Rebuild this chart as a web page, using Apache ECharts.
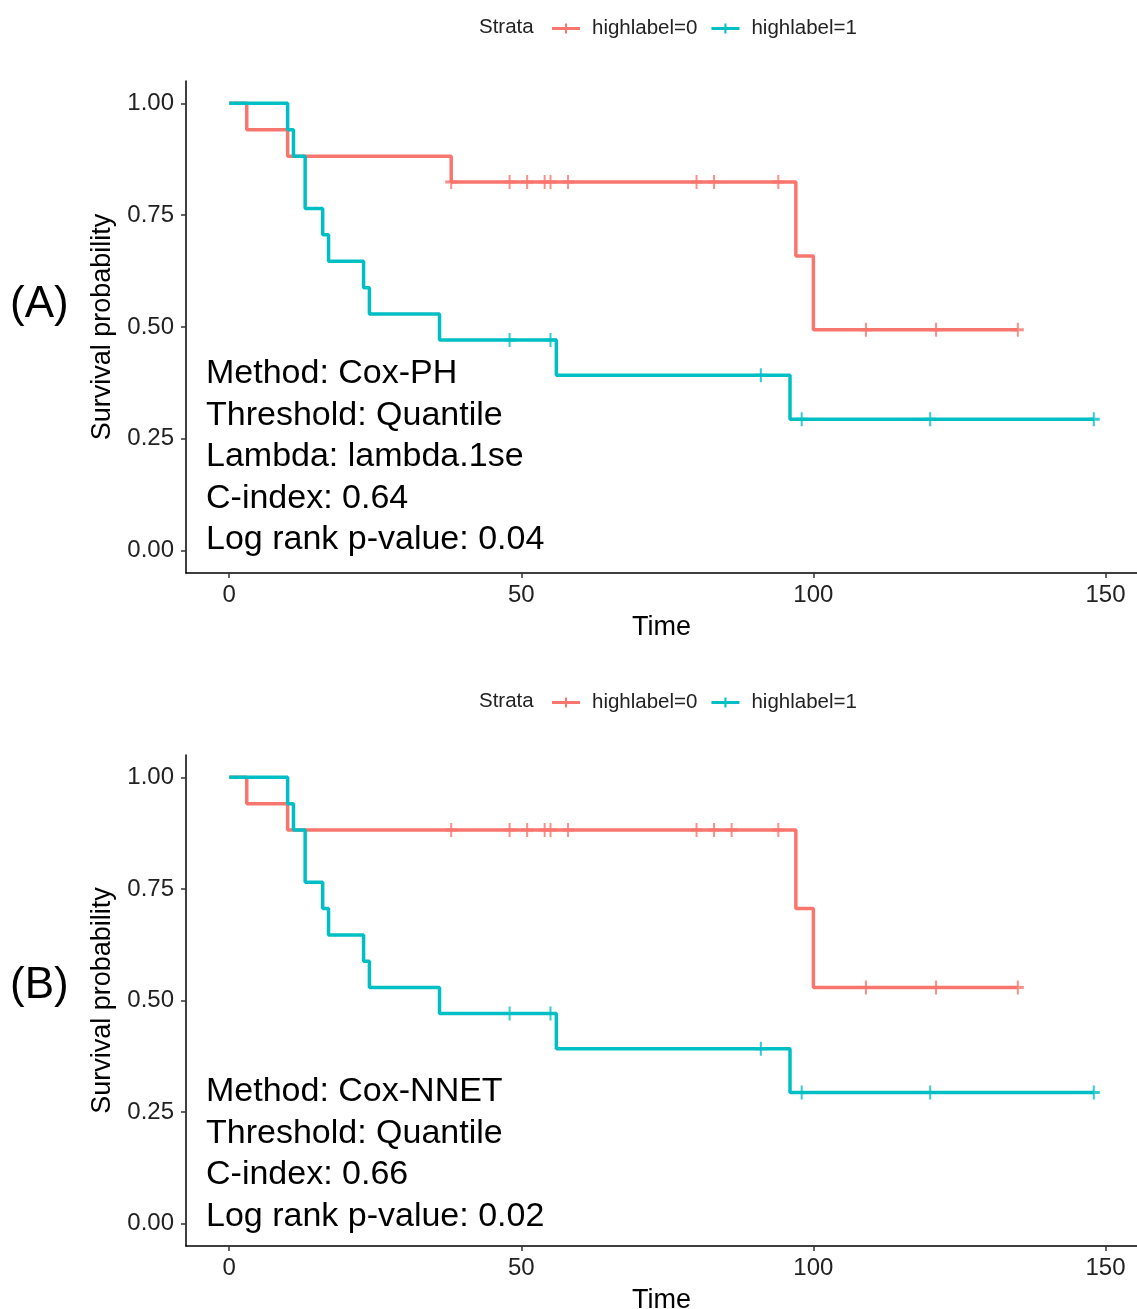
<!DOCTYPE html>
<html>
<head>
<meta charset="utf-8">
<title>Survival curves</title>
<script src="https://cdn.jsdelivr.net/npm/echarts@6/dist/echarts.min.js"></script>
<style>
  html, body { margin: 0; padding: 0; background: #fff; }
  #chart { width: 1137px; height: 1309px; }
</style>
</head>
<body>
<div id="chart"></div>
<script>
// panel A (Cox-PH) and panel B (Cox-NNET), step points
const timeRedA = [0, 3, 10, 38, 97, 100, 135]
const survRedA = [1.0, 0.941, 0.882, 0.824, 0.659, 0.494, 0.494]
const censorRedA = [38, 48, 51, 54, 55, 58, 80, 83, 94, 109, 121, 135]

const timeTealA = [0, 10, 11, 13, 16, 17, 23, 24, 36, 56, 96, 148]
const survTealA = [1.0, 0.941, 0.882, 0.765, 0.706, 0.647, 0.588, 0.529, 0.471, 0.392, 0.294, 0.294]
const censorTealA = [48, 55, 91, 98, 120, 148]

const timeRedB = [0, 3, 10, 97, 100, 135]
const survRedB = [1.0, 0.941, 0.882, 0.706, 0.529, 0.529]
const censorRedB = [38, 48, 51, 54, 55, 58, 80, 83, 86, 94, 109, 121, 135]

const timeTealB = [0, 10, 11, 13, 16, 17, 23, 24, 36, 56, 96, 148]
const survTealB = [1.0, 0.941, 0.882, 0.765, 0.706, 0.647, 0.588, 0.529, 0.471, 0.392, 0.294, 0.294]
const censorTealB = [48, 55, 91, 98, 120, 148]

const xTicks = [0, 50, 100, 150]
const yTicks = [0, 0.25, 0.5, 0.75, 1]
const strata = ['highlabel=0', 'highlabel=1']

const notesA = ['Method: Cox-PH', 'Threshold: Quantile', 'Lambda: lambda.1se', 'C-index: 0.64', 'Log rank p-value: 0.04']
const notesB = ['Method: Cox-NNET', 'Threshold: Quantile', 'C-index: 0.66', 'Log rank p-value: 0.02']

const RED = '#F8766D'
const TEAL = '#00BFC4'
const FONT = '"Liberation Sans", Arial, Helvetica, sans-serif'
const CROSS = 'path://M5,0 L7,0 L7,14 L5,14 Z M0,5.5 L12,5.5 L12,8.5 L0,8.5 Z'
const LEGEND_ICON = 'path://M0,3.5 L28,3.5 L28,6.5 L0,6.5 Z M13,0 L15,0 L15,10 L13,10 Z'

// survival value at time t
function stepAt(times, surv, t) {
  let v = surv[0]
  for (let i = 0; i < times.length; i++) {
    if (times[i] <= t) v = surv[i]
  }
  return v
}

function pairs(times, surv) {
  return times.map((t, i) => [t, surv[i]])
}

function censorPoints(censor, times, surv) {
  return censor.map(t => [t, stepAt(times, surv, t)])
}

function axesFor(idx) {
  const x = {
    type: 'value',
    gridIndex: idx,
    min: -7.4,
    max: 155.4,
    name: 'Time',
    nameLocation: 'middle',
    nameGap: 41,
    nameTextStyle: { color: '#000', fontSize: 27, fontFamily: FONT },
    axisLine: { onZero: false, lineStyle: { color: '#000', width: 1.5 } },
    axisTick: { length: 5, lineStyle: { color: '#333', width: 1.5 }, customValues: xTicks },
    axisLabel: { color: '#222', fontSize: 24, fontFamily: FONT, margin: 10, customValues: xTicks },
    splitLine: { show: false }
  }
  const y = {
    type: 'value',
    gridIndex: idx,
    min: -0.05,
    max: 1.05,
    name: 'Survival probability',
    nameLocation: 'middle',
    nameGap: 66,
    nameTextStyle: { color: '#000', fontSize: 27, fontFamily: FONT },
    axisLine: { show: true, onZero: false, lineStyle: { color: '#000', width: 1.5 } },
    axisTick: { show: true, length: 5, lineStyle: { color: '#333', width: 1.5 }, customValues: yTicks },
    axisLabel: {
      color: '#222', fontSize: 24, fontFamily: FONT, margin: 12,
      customValues: yTicks,
      formatter: v => v.toFixed(2)
    },
    splitLine: { show: false }
  }
  return [x, y]
}

function curveSeries(idx, name, color, times, surv, censor) {
  return [
    {
      name: name,
      type: 'line',
      xAxisIndex: idx,
      yAxisIndex: idx,
      step: 'end',
      showSymbol: false,
      silent: true,
      data: pairs(times, surv),
      lineStyle: { color: color, width: 3.5 },
      itemStyle: { color: color },
      z: 3
    },
    {
      name: name,
      type: 'scatter',
      xAxisIndex: idx,
      yAxisIndex: idx,
      symbol: CROSS,
      symbolSize: [12, 14],
      data: censorPoints(censor, times, surv),
      itemStyle: { color: color },
      z: 4
    }
  ]
}

function noteTexts(lines, top) {
  return lines.map((s, i) => ({
    type: 'text',
    left: 206,
    top: top + i * 41.5,
    style: { text: s, fontSize: 34, fontFamily: FONT, fill: '#000' }
  }))
}

const [xA, yA] = axesFor(0)
const [xB, yB] = axesFor(1)

const legendBase = {
  left: 547,
  itemWidth: 28,
  itemHeight: 10,
  itemGap: 14,
  selectedMode: false,
  textStyle: { color: '#222', fontSize: 20.5, fontFamily: FONT, padding: [0, 0, 0, 7] },
  data: [
    { name: strata[0], icon: LEGEND_ICON, itemStyle: { color: RED } },
    { name: strata[1], icon: LEGEND_ICON, itemStyle: { color: TEAL } }
  ]
}

const option = {
  backgroundColor: '#fff',
  animation: false,
  textStyle: { fontFamily: FONT },
  legend: [
    Object.assign({}, legendBase, { top: 13 }),
    Object.assign({}, legendBase, { top: 687 })
  ],
  grid: [
    { left: 186, top: 81, width: 951, height: 492, outerBoundsMode: 'none', containLabel: false },
    { left: 186, top: 755, width: 951, height: 491, outerBoundsMode: 'none', containLabel: false }
  ],
  xAxis: [xA, xB],
  yAxis: [yA, yB],
  series: [
    ...curveSeries(0, strata[0], RED, timeRedA, survRedA, censorRedA),
    ...curveSeries(0, strata[1], TEAL, timeTealA, survTealA, censorTealA),
    ...curveSeries(1, strata[0], RED, timeRedB, survRedB, censorRedB),
    ...curveSeries(1, strata[1], TEAL, timeTealB, survTealB, censorTealB)
  ],
  graphic: [
    { type: 'text', left: 479, top: 17, style: { text: 'Strata', fontSize: 20.5, fontFamily: FONT, fill: '#222' } },
    { type: 'text', left: 479, top: 691, style: { text: 'Strata', fontSize: 20.5, fontFamily: FONT, fill: '#222' } },
    { type: 'text', left: 10, top: 283, style: { text: '(A)', fontSize: 44, fontFamily: FONT, fill: '#000' } },
    { type: 'text', left: 10, top: 964, style: { text: '(B)', fontSize: 44, fontFamily: FONT, fill: '#000' } },
    ...noteTexts(notesA, 357),
    ...noteTexts(notesB, 1075)
  ]
}

const chart = echarts.init(document.getElementById('chart'))
chart.setOption(option)
window.addEventListener('resize', () => chart.resize())
</script>
</body>
</html>
